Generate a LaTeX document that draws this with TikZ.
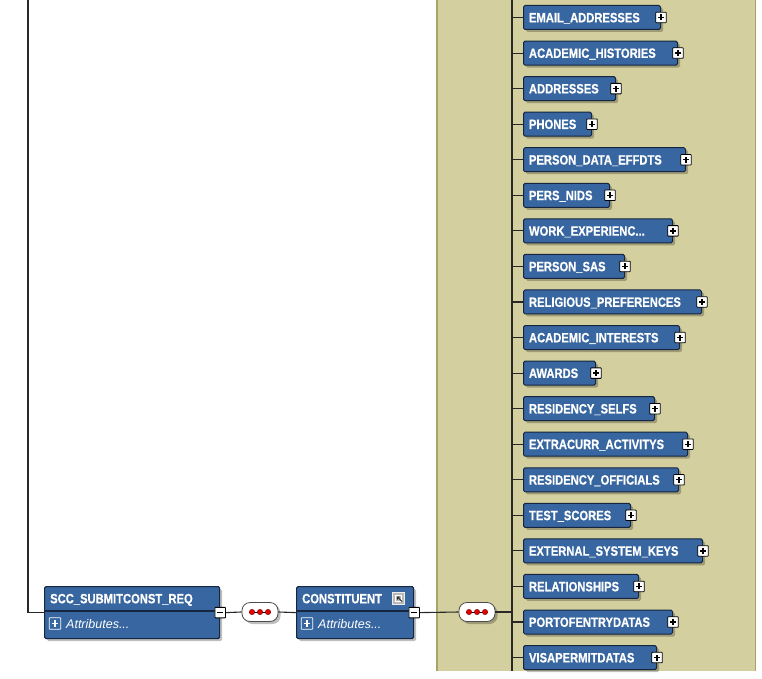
\documentclass[tikz,border=0pt]{standalone}
\usepackage{fontspec}
\setmainfont{Liberation Sans}
\newfontfamily\labfont{Liberation Sans}[FakeStretch=0.83,FakeBold=0.6]
\usetikzlibrary{shadows}
\definecolor{boxblue}{RGB}{56,102,160}
\definecolor{boxedge}{RGB}{22,38,64}
\definecolor{panelbg}{RGB}{212,207,158}
\definecolor{paneledge}{RGB}{168,164,104}
\definecolor{linecol}{RGB}{40,40,40}
\definecolor{dotred}{RGB}{232,0,0}
\newcommand\mydots{...}
\begin{document}
\begin{tikzpicture}[x=1pt,y=-1pt,
  conn/.style={draw=linecol,line width=1.1pt},
  shad/.style={drop shadow={shadow xshift=2.5pt,shadow yshift=-2.5pt,fill=black,opacity=0.25}},
  childbox/.style={rectangle,rounded corners=1.5pt,fill=boxblue,draw=boxedge,line width=1pt,
    text=white,font=\labfont\fontsize{13.5}{14}\selectfont\bfseries,anchor=west,minimum height=24pt,
    text height=9.6pt,text depth=0pt,inner xsep=5.5pt,inner ysep=0pt,shad},
  mainbox/.style={rectangle,rounded corners=1.5pt,fill=boxblue,draw=boxedge,line width=1.2pt,
    minimum height=52pt,anchor=north west,inner sep=0pt,shad},
  titletext/.style={text=white,font=\labfont\fontsize{13.5}{14}\selectfont\bfseries,inner sep=0pt,anchor=west,
    text height=9.6pt,text depth=0pt},
  attrtext/.style={text=white,font=\fontsize{12.5}{13}\selectfont\itshape,inner sep=0pt,anchor=west},
  pmbox/.style={rectangle,fill=white,draw=black,line width=0.8pt,minimum size=10.5pt,inner sep=0pt,rounded corners=0.6pt},
  plusicon/.style={pmbox,path picture={
    \draw[line width=1.3pt] ([xshift=-3pt]path picture bounding box.center) -- ([xshift=3pt]path picture bounding box.center)
      ([yshift=-3pt]path picture bounding box.center) -- ([yshift=3pt]path picture bounding box.center);}},
  minusicon/.style={pmbox,path picture={
    \draw[line width=1.3pt] ([xshift=-3pt]path picture bounding box.center) -- ([xshift=3pt]path picture bounding box.center);}},
  attplus/.style={rectangle,draw=white,line width=0.8pt,minimum size=11.5pt,inner sep=0pt,rounded corners=0.6pt,path picture={
    \draw[white,line width=1.1pt] ([xshift=-3.3pt]path picture bounding box.center) -- ([xshift=3.3pt]path picture bounding box.center)
      ([yshift=-3.3pt]path picture bounding box.center) -- ([yshift=3.3pt]path picture bounding box.center);}},
  seqoval/.style={rectangle,rounded corners=8pt,fill=white,draw=gray!60!black,line width=0.8pt,
    minimum width=36pt,minimum height=19pt,inner sep=0pt,shad},
  reddot/.style={fill=dotred,draw=red!45!black,line width=0.4pt}
]
\useasboundingbox (0,0) rectangle (762,679);
\fill[white] (0,0) rectangle (762,679);

% beige panel
\fill[panelbg] (437,0) rectangle (755,671);
\draw[paneledge,line width=1.4pt] (437,0) -- (437,671);
\draw[paneledge,line width=1pt] (755,0) -- (755,671);

% spine
\coordinate (sp0) at (512,0);
\coordinate (sp1) at (512,671);
\coordinate (spj) at (512,612);
\draw[conn] (sp0) -- (sp1);

% children
\foreach \lab/\rr [count=\i from 0] in {
  EMAIL\_ADDRESSES/660, ACADEMIC\_HISTORIES/677, ADDRESSES/615, PHONES/591,
  PERSON\_DATA\_EFFDTS/685, PERS\_NIDS/609, WORK\_EXPERIENC\mydots/672, PERSON\_SAS/624,
  RELIGIOUS\_PREFERENCES/701, ACADEMIC\_INTERESTS/679, AWARDS/595, RESIDENCY\_SELFS/654,
  EXTRACURR\_ACTIVITYS/687, RESIDENCY\_OFFICIALS/678, TEST\_SCORES/630,
  EXTERNAL\_SYSTEM\_KEYS/702, RELATIONSHIPS/638, PORTOFENTRYDATAS/672, VISAPERMITDATAS/656} {
  \pgfmathsetmacro\yy{17.5+35.56*\i}
  \pgfmathsetmacro\ww{\rr-523-11}
  \coordinate (s\i) at (512,\yy);
  \node[childbox,minimum width={(\rr-523)*1pt}] (c\i) at (523,\yy) {\makebox[\ww pt][l]{\lab}};
  \draw[conn] (s\i) -- (c\i.west);
  \node[plusicon] (p\i) at (c\i.east) {};
}

% left line
\coordinate (ltop) at (28,0);

% SCC box
\node[mainbox,minimum width=175pt] (scc) at (44,586) {};
\draw[conn] (ltop) |- (scc.west);
\draw[boxedge,line width=1.3pt] (44,611) -- (219,611);
\node[titletext] (scct) at (50,598.5) {SCC\_SUBMITCONST\_REQ};
\node[attplus] (sccp) at (55,623.5) {};
\node[attrtext] (scca) at (66,624.5) {Attributes...};
\node[minusicon] (m1) at (scc.east) {};

% sequence 1
\node[seqoval] (o1) at (260,612) {};
\draw[line width=1pt] ([xshift=-11pt]o1.center) -- ([xshift=11pt]o1.center);
\foreach \dx in {-8,0,8} \draw[reddot] ([xshift=\dx pt]o1.center) circle (2.7pt);
\draw[conn] (m1.east) -- (o1.west);

% CONSTITUENT box
\node[mainbox,minimum width=117pt] (con) at (296,586) {};
\draw[boxedge,line width=1.3pt] (296,611) -- (413,611);
\node[titletext] (cont) at (302,598.5) {CONSTITUENT};
\node[rectangle,fill=gray!55,draw=white!85!gray,line width=0.8pt,minimum size=12pt,inner sep=0pt] (cicon) at (398.5,598) {};
\draw[white,line width=0.7pt] ([shift={(-3.5pt,-3.5pt)}]cicon.center) rectangle ([shift={(2.5pt,2.5pt)}]cicon.center);
\draw[gray!30!black,line width=0.8pt] ([shift={(3.5pt,-3.5pt)}]cicon.center) -- ([shift={(-1pt,1pt)}]cicon.center)
   ([shift={(-1pt,-1.5pt)}]cicon.center) -- ([shift={(-1pt,1pt)}]cicon.center) -- ([shift={(1.5pt,1pt)}]cicon.center);
\node[attplus] (conp) at (307,623.5) {};
\node[attrtext] (cona) at (318,624.5) {Attributes...};
\node[minusicon] (m2) at (con.east) {};
\draw[conn] (o1.east) -- (con.west);

% sequence 2
\node[seqoval] (o2) at (477,612) {};
\draw[line width=1pt] ([xshift=-11pt]o2.center) -- ([xshift=11pt]o2.center);
\foreach \dx in {-8,0,8} \draw[reddot] ([xshift=\dx pt]o2.center) circle (2.7pt);
\draw[conn] (m2.east) -- (o2.west);
\draw[conn] (o2.east) -- (spj);
\end{tikzpicture}
\end{document}
